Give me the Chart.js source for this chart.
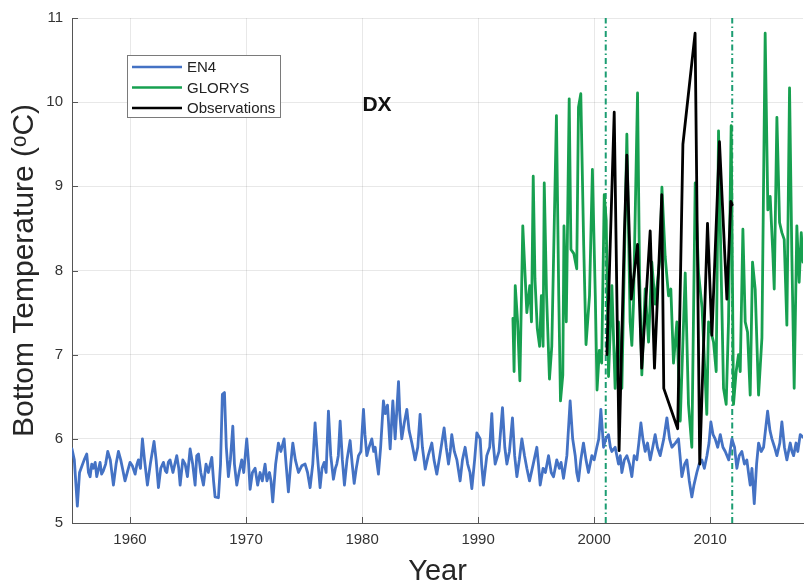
<!DOCTYPE html>
<html>
<head>
<meta charset="utf-8">
<script src="https://cdn.jsdelivr.net/npm/chart.js@4.4.1/dist/chart.umd.min.js"></script>
<style>
  html, body { margin: 0; padding: 0; background: #fff; }
  #wrap { width: 804px; height: 585px; }
</style>
</head>
<body>
<div id="wrap"><canvas id="bt-chart" width="804" height="585"></canvas></div>
<script>
// EN4 bottom temperature
const en4Years = [
  1955.0, 1955.2, 1955.46, 1955.65, 1955.84, 1956.05, 1956.27, 1956.42, 1956.56, 1956.7,
  1956.84, 1957.0, 1957.13, 1957.3, 1957.42, 1957.55, 1957.7, 1957.9, 1958.08, 1958.3,
  1958.57, 1958.8, 1959.0, 1959.2, 1959.35, 1959.57, 1959.8, 1960.0, 1960.2, 1960.44,
  1960.6, 1960.72, 1960.9, 1961.07, 1961.25, 1961.5, 1961.75, 1962.07, 1962.25, 1962.45,
  1962.65, 1962.88, 1963.05, 1963.17, 1963.3, 1963.45, 1963.7, 1964.03, 1964.2, 1964.32,
  1964.55, 1964.75, 1964.95, 1965.18, 1965.4, 1965.61, 1965.75, 1965.9, 1966.1, 1966.33,
  1966.55, 1966.75, 1967.05, 1967.2, 1967.33, 1967.62, 1967.8, 1967.96, 1968.14, 1968.3,
  1968.48, 1968.65, 1968.86, 1969.0, 1969.2, 1969.4, 1969.63, 1969.8, 1970.06, 1970.2,
  1970.35, 1970.55, 1970.78, 1971.0, 1971.21, 1971.4, 1971.64, 1971.8, 1972.02, 1972.15,
  1972.3, 1972.55, 1972.79, 1973.0, 1973.28, 1973.45, 1973.65, 1973.85, 1974.03, 1974.25,
  1974.52, 1974.8, 1975.09, 1975.3, 1975.52, 1975.75, 1975.95, 1976.15, 1976.38, 1976.55,
  1976.73, 1976.9, 1977.1, 1977.3, 1977.53, 1977.7, 1977.82, 1977.95, 1978.11, 1978.3,
  1978.48, 1978.7, 1978.97, 1979.15, 1979.32, 1979.5, 1979.69, 1979.9, 1980.12, 1980.25,
  1980.41, 1980.6, 1980.84, 1981.0, 1981.13, 1981.25, 1981.41, 1981.6, 1981.84, 1982.0,
  1982.19, 1982.42, 1982.65, 1982.85, 1983.14, 1983.25, 1983.42, 1983.65, 1983.86, 1984.05,
  1984.29, 1984.57, 1984.8, 1985.0, 1985.2, 1985.44, 1985.7, 1986.01, 1986.2, 1986.44,
  1986.7, 1987.07, 1987.25, 1987.45, 1987.6, 1987.73, 1987.95, 1988.17, 1988.45, 1988.65,
  1988.88, 1989.1, 1989.3, 1989.46, 1989.7, 1989.89, 1990.18, 1990.3, 1990.46, 1990.75,
  1991.0, 1991.18, 1991.3, 1991.47, 1991.8, 1992.1, 1992.3, 1992.48, 1992.7, 1992.96,
  1993.15, 1993.34, 1993.55, 1993.77, 1994.0, 1994.2, 1994.43, 1994.75, 1995.06, 1995.2,
  1995.35, 1995.6, 1995.8, 1996.07, 1996.3, 1996.5, 1996.78, 1997.0, 1997.15, 1997.36,
  1997.65, 1997.93, 1998.15, 1998.37, 1998.5, 1998.65, 1998.85, 1999.08, 1999.3, 1999.51,
  1999.8, 2000.0, 2000.23, 2000.4, 2000.58, 2000.81, 2001.0, 2001.24, 2001.4, 2001.53,
  2001.81, 2002.1, 2002.25, 2002.39, 2002.6, 2002.82, 2003.05, 2003.25, 2003.45, 2003.68,
  2003.85, 2004.03, 2004.2, 2004.4, 2004.6, 2004.83, 2005.05, 2005.26, 2005.45, 2005.69,
  2006.0, 2006.27, 2006.5, 2006.7, 2007.0, 2007.27, 2007.4, 2007.56, 2007.8, 2007.99,
  2008.2, 2008.42, 2008.6, 2008.85, 2009.05, 2009.28, 2009.5, 2009.72, 2009.9, 2010.06,
  2010.25, 2010.43, 2010.65, 2010.87, 2011.1, 2011.3, 2011.6, 2011.87, 2012.1, 2012.3,
  2012.5, 2012.73, 2012.95, 2013.16, 2013.3, 2013.45, 2013.6, 2013.8, 2014.0, 2014.17,
  2014.4, 2014.6, 2014.95, 2015.15, 2015.32, 2015.55, 2015.75, 2016.0, 2016.18, 2016.4,
  2016.61, 2016.9, 2017.05, 2017.19, 2017.4, 2017.55, 2017.76, 2018.0
];
const en4Temps = [
  5.88, 5.75, 5.2, 5.6, 5.67, 5.75, 5.82, 5.6, 5.55, 5.7,
  5.65, 5.72, 5.55, 5.65, 5.72, 5.58, 5.62, 5.7, 5.85, 5.75,
  5.45, 5.7, 5.85, 5.75, 5.65, 5.5, 5.62, 5.72, 5.68, 5.58,
  5.7, 5.75, 5.65, 6.0, 5.75, 5.45, 5.7, 5.97, 5.75, 5.42,
  5.65, 5.72, 5.62, 5.6, 5.72, 5.75, 5.6, 5.8, 5.65, 5.45,
  5.75, 5.7, 5.55, 5.88, 5.7, 5.45, 5.8, 5.82, 5.6, 5.45,
  5.7, 5.6, 5.78, 5.5, 5.31, 5.3, 5.7, 6.53, 6.55, 5.9,
  5.55, 5.75, 6.15, 5.7, 5.45, 5.6, 5.75, 5.6, 6.0, 5.75,
  5.4, 5.6, 5.65, 5.45, 5.6, 5.5, 5.7, 5.5, 5.6, 5.5,
  5.25, 5.7, 5.95, 5.85, 6.0, 5.7, 5.37, 5.7, 5.95, 5.75,
  5.6, 5.68, 5.7, 5.6, 5.42, 5.7, 6.19, 5.8, 5.42, 5.65,
  5.72, 5.6, 6.33, 5.8, 5.52, 5.65, 5.7, 5.8, 6.21, 5.75,
  5.45, 5.75, 5.98, 5.7, 5.47, 5.65, 5.8, 5.85, 6.35, 6.05,
  5.8, 5.9, 6.0, 5.85, 5.9, 5.75, 5.58, 5.9, 6.45, 6.3,
  6.4, 5.88, 6.45, 6.0, 6.68, 6.3, 6.0, 6.2, 6.35, 6.1,
  5.95, 5.75, 5.9, 6.29, 5.9, 5.64, 5.8, 5.95, 5.75, 5.58,
  5.8, 6.13, 5.9, 5.7, 5.85, 6.05, 5.85, 5.75, 5.5, 5.75,
  5.9, 5.7, 5.6, 5.41, 5.75, 6.07, 6.0, 5.7, 5.45, 5.8,
  5.9, 6.3, 5.95, 5.7, 5.85, 6.37, 5.9, 5.7, 5.85, 6.25,
  5.8, 5.55, 5.75, 6.0, 5.8, 5.65, 5.5, 5.7, 5.9, 5.7,
  5.45, 5.65, 5.6, 5.8, 5.6, 5.55, 5.75, 5.65, 5.72, 5.53,
  5.8, 6.45, 6.0, 5.8, 5.6, 5.5, 5.75, 5.95, 5.75, 5.6,
  5.8, 5.75, 5.9, 6.0, 6.35, 5.9, 6.0, 6.05, 5.9, 5.85,
  5.9, 5.7, 5.8, 5.6, 5.75, 5.8, 5.7, 5.55, 5.8, 5.75,
  5.95, 6.19, 6.0, 5.85, 5.95, 5.75, 5.9, 6.05, 5.9, 5.8,
  6.0, 6.25, 6.0, 5.9, 5.95, 6.0, 5.8, 5.55, 5.7, 5.75,
  5.5, 5.31, 5.45, 5.6, 5.7, 5.75, 5.65, 5.8, 5.95, 6.2,
  6.05, 6.0, 5.9, 6.05, 5.9, 5.85, 5.75, 6.0, 5.9, 5.65,
  5.8, 5.85, 5.7, 5.75, 5.6, 5.45, 5.65, 5.23, 5.7, 5.95,
  5.85, 5.9, 6.33, 6.1, 6.0, 5.9, 5.8, 5.95, 6.2, 5.9,
  5.75, 5.95, 5.85, 5.8, 5.95, 5.85, 6.05, 6.02
];

// GLORYS reanalysis
const glorysYears = [
  1993.0, 1993.1, 1993.2, 1993.4, 1993.6, 1993.85, 1994.05, 1994.2, 1994.45, 1994.6,
  1994.75, 1994.9, 1995.1, 1995.3, 1995.45, 1995.6, 1995.7, 1995.9, 1996.15, 1996.35,
  1996.75, 1996.95, 1997.1, 1997.3, 1997.4, 1997.6, 1997.85, 1998.0, 1998.25, 1998.5,
  1998.65, 1998.85, 1999.1, 1999.3, 1999.6, 1999.85, 2000.1, 2000.25, 2000.45, 2000.65,
  2000.87, 2001.04, 2001.24, 2001.53, 2001.81, 2002.1, 2002.39, 2002.82, 2003.1, 2003.25,
  2003.39, 2003.74, 2003.91, 2004.11, 2004.4, 2004.69, 2004.97, 2005.26, 2005.69, 2005.84,
  2006.12, 2006.41, 2006.61, 2006.84, 2007.13, 2007.42, 2007.85, 2008.13, 2008.42, 2008.71,
  2009.0, 2009.3, 2009.71, 2009.86, 2010.29, 2010.52, 2010.72, 2010.92, 2011.15, 2011.38,
  2011.58, 2011.81, 2012.01, 2012.24, 2012.44, 2012.59, 2012.82, 2013.02, 2013.22, 2013.45,
  2013.65, 2013.88, 2014.17, 2014.46, 2014.74, 2014.97, 2015.17, 2015.4, 2015.52, 2015.75,
  2015.98, 2016.18, 2016.38, 2016.61, 2016.84, 2017.04, 2017.24, 2017.47, 2017.67, 2017.85,
  2018.0
];
const glorysTemps = [
  7.43, 6.8, 7.82, 7.4, 6.69, 8.53, 7.94, 7.5, 7.82, 7.39,
  9.12, 7.9, 7.31, 7.1, 7.7, 7.1, 9.04, 7.7, 6.71, 7.1,
  9.84, 7.7, 6.45, 6.76, 8.53, 7.39, 10.04, 8.25, 8.2, 8.02,
  9.94, 10.1, 8.3, 7.12, 7.7, 9.2, 7.7, 6.58, 7.05, 6.9,
  8.9, 8.6, 6.74, 7.82, 6.6, 7.39, 6.6, 9.62, 7.39, 7.11,
  7.6, 10.11, 7.97, 6.76, 7.78, 7.15, 8.1, 7.6, 8.17, 8.99,
  8.17, 7.7, 7.78, 6.9, 7.39, 6.21, 7.97, 6.41, 5.9, 9.04,
  7.97, 7.56, 6.29, 7.39, 7.15, 6.8, 9.66, 8.17, 6.6, 6.41,
  7.39, 9.72, 6.41, 6.8, 7.0, 6.8, 8.49, 7.39, 7.27, 6.52,
  8.1, 7.78, 6.52, 7.2, 10.82, 8.72, 8.88, 8.21, 7.78, 9.82,
  8.57, 8.45, 8.37, 7.35, 10.17, 8.17, 6.6, 8.53, 7.86, 8.45,
  8.1
];

// In-situ observations
const obsYears = [
  2001.1, 2001.73, 2002.15, 2002.6, 2002.82, 2003.2, 2003.74, 2004.1, 2004.83, 2005.2,
  2005.83, 2006.0, 2007.2, 2007.65, 2008.7, 2009.1, 2009.77, 2010.15, 2010.8, 2011.44,
  2011.78, 2011.9
];
const obsTemps = [
  7.0, 9.88, 5.86, 8.41, 9.37, 7.66, 8.31, 6.84, 8.47, 6.84,
  8.9, 6.6, 6.12, 9.5, 10.82, 5.7, 8.56, 7.23, 9.53, 7.66,
  8.82, 8.78
];

// observation period markers (dash-dot verticals)
const eventYears = [2001.0, 2011.9];

const xTickYears = [1960, 1970, 1980, 1990, 2000, 2010];
const yMin = 5, yMax = 11;
const xMin = 1955, xMax = 2018;

const FONT = '"Liberation Sans", Arial, Helvetica, sans-serif';

function toPoints(xs, ys) {
    return xs.map((x, i) => ({ x: x, y: ys[i] }));
}

// MATLAB-style inward tick marks
const innerTicks = {
    id: 'innerTicks',
    afterDraw(chart) {
        const { ctx, chartArea, scales } = chart;
        ctx.save();
        ctx.strokeStyle = '#555';
        ctx.lineWidth = 1;
        ctx.beginPath();
        scales.x.ticks.forEach(t => {
            const px = Math.round(scales.x.getPixelForValue(t.value)) + 0.5;
            ctx.moveTo(px, chartArea.bottom);
            ctx.lineTo(px, chartArea.bottom - 6);
        });
        scales.y.ticks.forEach(t => {
            const py = Math.round(scales.y.getPixelForValue(t.value)) + 0.5;
            ctx.moveTo(chartArea.left, py);
            ctx.lineTo(chartArea.left + 6, py);
        });
        ctx.stroke();
        ctx.restore();
    }
};

// legend box inside the axes, plus the station label
const insideLegend = {
    id: 'insideLegend',
    afterDatasetsDraw(chart) {
        const ctx = chart.ctx;
        const items = chart.data.datasets.filter(d => d.inLegend);
        ctx.save();
        ctx.fillStyle = '#fff';
        ctx.strokeStyle = '#7a7a7a';
        ctx.lineWidth = 1;
        ctx.fillRect(127.5, 55.5, 153, 62);
        ctx.strokeRect(127.5, 55.5, 153, 62);
        ctx.font = '15px ' + FONT;
        ctx.textBaseline = 'middle';
        ctx.textAlign = 'left';
        items.forEach((ds, i) => {
            const y = 67 + i * 20.5;
            ctx.strokeStyle = ds.borderColor;
            ctx.lineWidth = 2.5;
            ctx.beginPath();
            ctx.moveTo(132, y);
            ctx.lineTo(182, y);
            ctx.stroke();
            ctx.fillStyle = '#222';
            ctx.fillText(ds.label, 187, y + 1);
        });
        ctx.font = 'bold 21px ' + FONT;
        ctx.fillStyle = '#111';
        ctx.textAlign = 'center';
        ctx.fillText('DX', 377, 105);
        ctx.restore();
    }
};

const eventSets = eventYears.map(yr => ({
    label: 'event',
    data: [{ x: yr, y: yMin }, { x: yr, y: yMax }],
    borderColor: '#1c9d72',
    borderWidth: 2,
    borderDash: [6, 3, 1.5, 3],
    borderCapStyle: 'butt',
    pointRadius: 0,
    order: 4
}));

const ctx = document.getElementById('bt-chart');

new Chart(ctx, {
    type: 'line',
    data: {
        datasets: [
            {
                label: 'EN4',
                data: toPoints(en4Years, en4Temps),
                borderColor: '#4472c4',
                borderWidth: 2.8,
                pointRadius: 0,
                inLegend: true,
                order: 3
            },
            {
                label: 'GLORYS',
                data: toPoints(glorysYears, glorysTemps),
                borderColor: '#17a050',
                borderWidth: 2.8,
                pointRadius: 0,
                inLegend: true,
                order: 2
            },
            {
                label: 'Observations',
                data: toPoints(obsYears, obsTemps),
                borderColor: '#000000',
                borderWidth: 2.8,
                pointRadius: 0,
                inLegend: true,
                order: 1
            },
            ...eventSets
        ]
    },
    options: {
        responsive: false,
        animation: false,
        layout: { padding: { top: 13, right: 1, left: 0, bottom: 0 } },
        elements: { line: { tension: 0, borderJoinStyle: 'round', borderCapStyle: 'round' } },
        scales: {
            x: {
                type: 'linear',
                min: xMin,
                max: xMax,
                afterBuildTicks: scale => {
                    scale.ticks = xTickYears.map(v => ({ value: v }));
                },
                afterFit: scale => { scale.height = 62; },
                grid: { color: 'rgba(0,0,0,0.09)', drawTicks: false },
                border: { color: '#555', width: 1 },
                ticks: {
                    padding: 8,
                    color: '#333',
                    font: { family: FONT, size: 15 },
                    maxRotation: 0,
                    callback: v => String(v)
                },
                title: {
                    display: true,
                    text: 'Year',
                    color: '#262626',
                    font: { family: FONT, size: 29, lineHeight: 0.9 },
                    padding: { top: 0, bottom: 0 }
                }
            },
            y: {
                min: yMin,
                max: yMax,
                afterFit: scale => { scale.width = 72; },
                grid: { color: 'rgba(0,0,0,0.09)', drawTicks: false },
                border: { color: '#555', width: 1 },
                ticks: {
                    stepSize: 1,
                    padding: 9,
                    color: '#333',
                    font: { family: FONT, size: 15 }
                },
                title: {
                    display: true,
                    text: 'Bottom Temperature (\u1D52C)',
                    color: '#262626',
                    font: { family: FONT, size: 30, lineHeight: 1.2 },
                    padding: { top: 7, bottom: 0 }
                }
            }
        },
        plugins: {
            legend: { display: false },
            tooltip: { enabled: false }
        }
    },
    plugins: [innerTicks, insideLegend]
});
</script>
</body>
</html>
